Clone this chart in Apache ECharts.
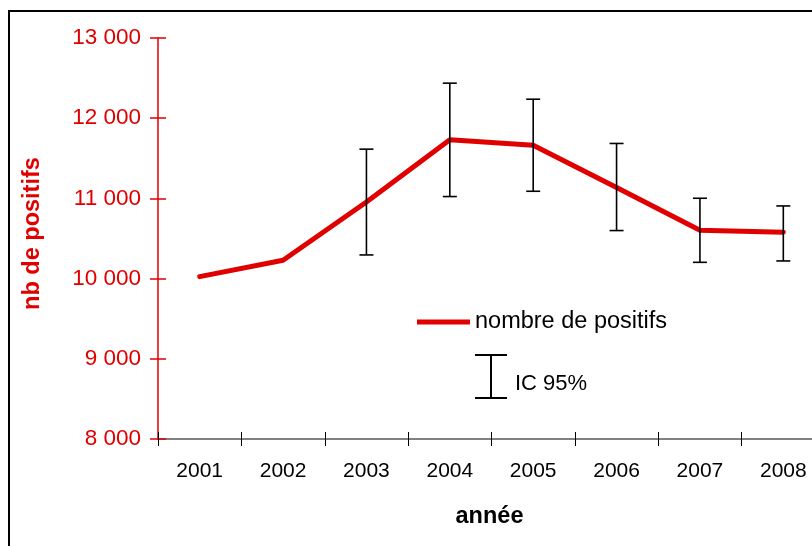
<!DOCTYPE html>
<html>
<head>
<meta charset="utf-8">
<script src="https://cdn.jsdelivr.net/npm/echarts@6/dist/echarts.min.js"></script>
<style>
html,body{margin:0;padding:0;background:#fff;overflow:hidden;width:812px;height:546px;}
#chart{width:840px;height:546px;}
</style>
</head>
<body>
<div id="chart"></div>
<script>
const years = ['2001','2002','2003','2004','2005','2006','2007','2008'];
const positifs = [10025, 10228, 10956, 11730, 11664, 11136, 10603, 10578];
const icLow  = [null, null, 10295, 11023, 11089, 10599, 10203, 10220];
const icHigh = [null, null, 11614, 12437, 12237, 11685, 11002, 10906];
const yTicks = [8000, 9000, 10000, 11000, 12000, 13000];

const RED = '#e00000';
const FONT = '"Liberation Sans", Arial, sans-serif';

const errData = years.map((y, i) => [i, icLow[i], icHigh[i]]).filter(d => d[1] != null);

const chart = echarts.init(document.getElementById('chart'), null, {renderer: 'canvas'});
chart.setOption({
  animation: false,
  backgroundColor: '#fff',
  textStyle: {fontFamily: FONT},
  grid: {left: 158, top: 38, width: 667, height: 401},
  legend: [
    {
      data: [{name: 'nombre de positifs', icon: 'rect'}],
      left: 417, top: 310,
      itemWidth: 53, itemHeight: 5,
      textStyle: {fontSize: 23.5, color: '#000', fontFamily: FONT},
      itemGap: 4, padding: 0,
      selectedMode: false
    },
    {
      data: [{name: 'IC 95%', icon: 'path://M0,0 H32 V2 H17 V43 H32 V45 H0 V43 H15 V2 H0 Z'}],
      left: 475, top: 354,
      itemWidth: 32, itemHeight: 45,
      formatter: n => '{a|' + n + '}',
      textStyle: {
        fontSize: 22, color: '#000', fontFamily: FONT,
        rich: {a: {fontSize: 22, color: '#000', fontFamily: FONT, padding: [14, 0, 0, 3]}}
      },
      itemGap: 8, padding: 0,
      selectedMode: false
    }
  ],
  xAxis: [
    {
      type: 'category',
      data: years,
      boundaryGap: true,
      name: 'année',
      nameLocation: 'middle',
      nameGap: 66,
      nameTextStyle: {fontSize: 23.5, fontWeight: 'bold', color: '#000', fontFamily: FONT, padding: [0, 4, 0, 0]},
      axisLine: {lineStyle: {color: '#808080', width: 2}},
      axisTick: {show: true, length: 7, lineStyle: {color: '#000', width: 1}},
      axisLabel: {fontSize: 21, color: '#000', margin: 22, fontFamily: FONT},
      splitLine: {show: false}
    },
    {
      type: 'category',
      data: years,
      boundaryGap: true,
      position: 'bottom',
      axisLine: {show: false},
      axisTick: {show: true, inside: true, length: 7, lineStyle: {color: '#000', width: 1}},
      axisLabel: {show: false},
      splitLine: {show: false}
    }
  ],
  yAxis: [
    {
      type: 'value',
      min: 8000, max: 13000, interval: 1000,
      name: 'nb de positifs',
      nameLocation: 'middle',
      nameRotate: 90,
      nameGap: 113,
      nameTextStyle: {fontSize: 23.5, fontWeight: 'bold', color: RED, fontFamily: FONT, padding: [0, 0, 0, 10]},
      axisLine: {show: true, lineStyle: {color: RED, width: 1.5}},
      axisTick: {show: true, length: 8, lineStyle: {color: RED, width: 1.5}},
      axisLabel: {
        fontSize: 22.5, color: RED, margin: 17, fontFamily: FONT,
        formatter: v => yTicks.includes(v) ? String(v).replace(/\B(?=(\d{3})+(?!\d))/g, ' ') : ''
      },
      splitLine: {show: false}
    },
    {
      type: 'value',
      min: 8000, max: 13000, interval: 1000,
      position: 'left',
      axisLine: {show: false},
      axisTick: {show: true, inside: true, length: 8, lineStyle: {color: RED, width: 1.5}},
      axisLabel: {show: false},
      splitLine: {show: false}
    }
  ],
  series: [
    {
      name: 'nombre de positifs',
      type: 'line',
      data: positifs,
      symbol: 'none',
      color: RED,
      lineStyle: {color: RED, width: 5, cap: 'round', join: 'round'},
      z: 2
    },
    {
      name: 'IC 95%',
      type: 'custom',
      color: '#000',
      data: errData,
      z: 3,
      renderItem: function (params, api) {
        const x = api.value(0);
        const lo = api.coord([x, api.value(1)]);
        const hi = api.coord([x, api.value(2)]);
        const w = 7;
        const st = {stroke: '#000', lineWidth: 1.6};
        return {
          type: 'group',
          children: [
            {type: 'line', shape: {x1: lo[0], y1: lo[1], x2: hi[0], y2: hi[1]}, style: st},
            {type: 'line', shape: {x1: lo[0]-w, y1: lo[1], x2: lo[0]+w, y2: lo[1]}, style: st},
            {type: 'line', shape: {x1: hi[0]-w, y1: hi[1], x2: hi[0]+w, y2: hi[1]}, style: st}
          ]
        };
      }
    }
  ],
  graphic: [
    {type: 'rect', silent: true, z: 100,
     shape: {x: 9, y: 11, width: 900, height: 700},
     style: {fill: 'none', stroke: '#000', lineWidth: 2}}
  ]
});
</script>
</body>
</html>
